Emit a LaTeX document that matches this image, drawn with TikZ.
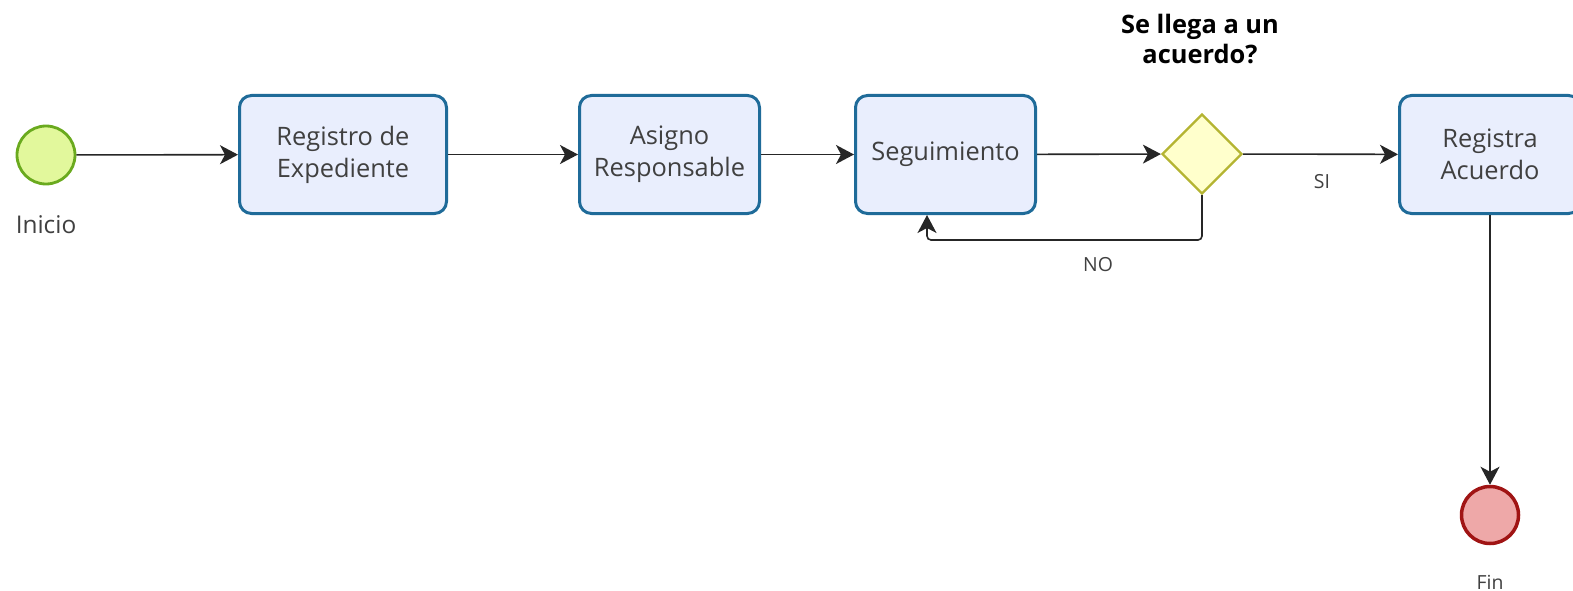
\documentclass[tikz,border=0pt]{standalone}
\usepackage{fontspec}
\setmainfont{Open Sans}
\usetikzlibrary{shapes.geometric,arrows.meta}
\definecolor{taskdraw}{HTML}{1F6B99}
\definecolor{taskfill}{HTML}{E9EEFD}
\definecolor{startdraw}{HTML}{6AAA1E}
\definecolor{startfill}{HTML}{E2F89C}
\definecolor{enddraw}{HTML}{A01414}
\definecolor{endfill}{HTML}{EEA8A8}
\definecolor{gwdraw}{HTML}{B4B432}
\definecolor{gwfill}{HTML}{FFFFCC}
\definecolor{txt}{HTML}{404040}
\tikzset{
  task/.style={draw=taskdraw, fill=taskfill, line width=3bp, rounded corners=12bp,
    minimum height=118bp, align=center, text=txt, font=\fontsize{25.5}{32}\selectfont, inner sep=0pt},
  startev/.style={circle, draw=startdraw, fill=startfill, line width=2.8bp, minimum size=58bp, inner sep=0pt},
  endev/.style={circle, draw=enddraw, fill=endfill, line width=3.5bp, minimum size=57bp, inner sep=0pt},
  gateway/.style={diamond, draw=gwdraw, fill=gwfill, line width=2.4bp, minimum width=80bp, minimum height=80bp, inner sep=0pt},
  flow/.style={line width=1.6bp, draw=black!85, -{Stealth[length=18bp,width=19bp,inset=5bp]}},
  lbl/.style={text=txt, font=\fontsize{24.5}{28}\selectfont},
  smalllbl/.style={text=txt, font=\fontsize{19.5}{22}\selectfont},
}
\begin{document}
\begin{tikzpicture}[x=1bp,y=-1bp]
\node[startev] (start) at (46,155) {};
\node[lbl] (inicio) at (46,225) {Inicio};
\node[task, minimum width=207bp] (t1) at (343,154.5) {Registro de\\Expediente};
\node[task, minimum width=180bp] (t2) at (669.5,154.5) {Asigno\\Responsable};
\node[task, minimum width=180bp] (t3) at (945.5,154.5) {Seguimiento};
\node[gateway] (gw) at (1202,154) {};
\node[text=black, font=\bfseries\fontsize{25.5}{31}\selectfont, align=center] (q) at (1200,39) {Se llega a un\\acuerdo?};
\node[task, minimum width=181bp] (t4) at (1490,154.5) {Registra\\Acuerdo};
\node[endev] (fin) at (1490,515) {};
\node[smalllbl] (finl) at (1490,582) {Fin};
\draw[flow] (start) -- (t1);
\draw[flow] (t1) -- (t2);
\draw[flow] (t2) -- (t3);
\draw[flow] (t3) -- (gw);
\draw[flow] (gw) -- (t4);
\node[smalllbl] (si) at (1322,182) {SI};
\coordinate (c1) at (1202,240);
\coordinate (c2) at (927,240);
\draw[flow, rounded corners=4bp] (gw.south) -- (c1) -- (c2) -- (t3.south -| c2);
\node[smalllbl] (no) at (1098,265) {NO};
\draw[flow] (t4) -- (fin);
\pgfresetboundingbox
\useasboundingbox (0,0) rectangle (1573,591);
\end{tikzpicture}
\end{document}
